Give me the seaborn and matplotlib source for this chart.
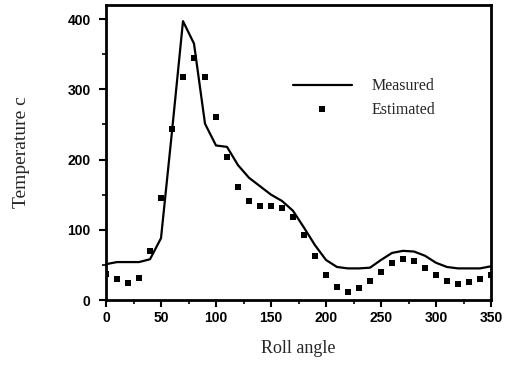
import matplotlib
matplotlib.use("Agg")
import matplotlib.pyplot as plt
import seaborn as sns
import pandas as pd
from matplotlib.ticker import MultipleLocator

angles = list(range(0, 360, 10))
measured = [51, 54, 54, 54, 58, 88, 240, 397, 365, 251, 220, 218, 192, 174, 162, 150,
            141, 127, 103, 78, 57, 47, 45, 45, 46, 57, 67, 70, 69, 63, 53, 47, 45, 45, 45, 48]
estimated = [37, 30, 24, 32, 70, 145, 243, 317, 345, 317, 261, 203, 161, 141, 134, 134,
             131, 118, 93, 63, 36, 19, 12, 17, 27, 40, 52, 58, 56, 46, 36, 27, 23, 25, 30, 36]

df = pd.DataFrame({"angle": angles, "Measured": measured, "Estimated": estimated})

sns.set_style("ticks")
plt.rcParams["font.family"] = ["Liberation Sans", "DejaVu Sans"]

fig = plt.figure(figsize=(5.12, 3.74), dpi=100)
ax = fig.add_axes([106 / 512, 1 - 300 / 374, (491 - 106) / 512, (300 - 5) / 374])

sns.lineplot(data=df, x="angle", y="Measured", ax=ax, color="black", linewidth=1.6,
             label="Measured")
sns.scatterplot(data=df, x="angle", y="Estimated", ax=ax, color="black", marker="s",
                s=16, linewidth=0, label="Estimated", zorder=3)

ax.set_xlim(0, 350)
ax.set_ylim(0, 420)
ax.xaxis.set_major_locator(MultipleLocator(50))
ax.xaxis.set_minor_locator(MultipleLocator(25))
ax.yaxis.set_major_locator(MultipleLocator(100))
ax.yaxis.set_minor_locator(MultipleLocator(50))
ax.tick_params(which="major", direction="out", length=5, width=1.5, colors="black",
               labelsize=10, pad=3)
ax.tick_params(axis="y", which="major", pad=6)
ax.tick_params(which="minor", direction="out", length=3, width=1.2, colors="black")
for lab in ax.get_xticklabels() + ax.get_yticklabels():
    lab.set_fontweight("bold")
for sp in ax.spines.values():
    sp.set_visible(True)
    sp.set_linewidth(2)
    sp.set_color("black")

serif = ["Liberation Serif", "DejaVu Serif"]
ax.set_xlabel("Roll angle", family=serif, fontsize=13, labelpad=11)
ax.set_ylabel("Temperature c", family=serif, fontsize=14, labelpad=27)

leg = ax.legend(loc="upper left", bbox_to_anchor=(0.448, 0.80), frameon=False,
                handlelength=3.7, handletextpad=1.2, labelspacing=0.45,
                prop={"family": serif, "size": 11.5})

fig.savefig("out.png", dpi=100)
